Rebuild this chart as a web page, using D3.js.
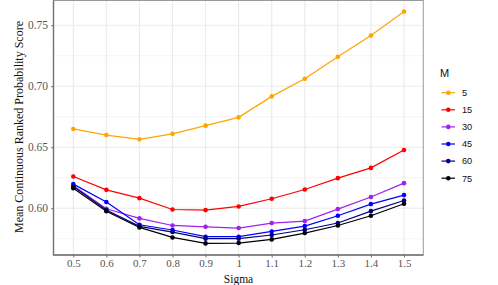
<!DOCTYPE html>
<html><head><meta charset="utf-8">
<script src="https://cdn.jsdelivr.net/npm/d3@7"></script>
<style>body{margin:0;background:#fff}svg{display:block}</style>
</head><body>
<svg id="c" width="498" height="285"></svg>
<script>
const sigma = [0.5,0.6,0.7,0.8,0.9,1.0,1.1,1.2,1.3,1.4,1.5];
const seriesNames = ["5","15","30","45","60","75"];
const m5  = [0.6650,0.6600,0.6565,0.6610,0.6677,0.6745,0.6917,0.7061,0.7241,0.7416,0.7612];
const m15 = [0.6260,0.6151,0.6083,0.5990,0.5985,0.6015,0.6078,0.6154,0.6247,0.6331,0.6478];
const m30 = [0.6185,0.5996,0.5917,0.5859,0.5848,0.5838,0.5879,0.5895,0.5993,0.6092,0.6206];
const m45 = [0.6198,0.6051,0.5865,0.5822,0.5767,0.5767,0.5810,0.5854,0.5939,0.6034,0.6108];
const m60 = [0.6178,0.5985,0.5852,0.5805,0.5751,0.5751,0.5781,0.5824,0.5879,0.5977,0.6064];
const m75 = [0.6165,0.5975,0.5843,0.5761,0.5712,0.5715,0.5745,0.5797,0.5859,0.5939,0.6037];
const xTicks = [0.5,0.6,0.7,0.8,0.9,1.0,1.1,1.2,1.3,1.4,1.5];
const xTickLabels = ["0.5","0.6","0.7","0.8","0.9","1","1.1","1.2","1.3","1.4","1.5"];
const yTicks = [0.60,0.65,0.70,0.75];
const yMinor = [0.575,0.625,0.675,0.725];
const colors = ["#FFA500","#FF0000","#A020F0","#0000FF","#000080","#000000"];
const allSeries = [m5,m15,m30,m45,m60,m75];

const svg = d3.select("#c");
const L = 53.5, R = 423.3, T = 0.5, B = 255;
const x = d3.scaleLinear().domain([0.5,1.5]).range([73.3,404]);
const y = d3.scaleLinear().domain([0.5617,0.7707]).range([B,0]);
const serif = "'Liberation Serif','DejaVu Serif',serif";
const sans = "'Liberation Sans',Arial,sans-serif";

const g = svg.append("g");
g.selectAll(".ym").data(yMinor).enter().append("line")
  .attr("x1",L).attr("x2",R).attr("y1",d=>y(d)).attr("y2",d=>y(d))
  .attr("stroke","#ececec").attr("stroke-width",0.6);
g.selectAll(".yM").data(yTicks).enter().append("line")
  .attr("x1",L).attr("x2",R).attr("y1",d=>y(d)).attr("y2",d=>y(d))
  .attr("stroke","#ebebeb").attr("stroke-width",1.2);
g.selectAll(".xM").data(xTicks).enter().append("line")
  .attr("y1",T).attr("y2",B).attr("x1",d=>x(d)).attr("x2",d=>x(d))
  .attr("stroke","#ebebeb").attr("stroke-width",1.2);

g.append("rect").attr("x",L).attr("y",T).attr("width",R-L).attr("height",B-T)
  .attr("fill","none").attr("stroke","#9a9a9a").attr("stroke-width",1);
g.append("path").attr("d",`M${L},${T}V${B}H${R}`).attr("fill","none")
  .attr("stroke","#707070").attr("stroke-width",1.4);

const xAxis = d3.axisBottom(x).tickValues(xTicks).tickFormat((d,i)=>xTickLabels[i]).tickSize(2.5).tickPadding(1.5);
const ax = svg.append("g").attr("transform",`translate(0,${B})`).call(xAxis);
ax.select(".domain").remove();
ax.selectAll("line").attr("stroke","#707070");
ax.selectAll("text").attr("font-family",serif).attr("font-size",11).attr("fill","#555");
const yAxis = d3.axisLeft(y).tickValues(yTicks).tickFormat(d3.format(".2f")).tickSize(2.5).tickPadding(3);
const ay = svg.append("g").attr("transform",`translate(${L},0)`).call(yAxis);
ay.select(".domain").remove();
ay.selectAll("line").attr("stroke","#707070");
ay.selectAll("text").attr("font-family",serif).attr("font-size",11.5).attr("fill","#555");

svg.append("text").attr("x",238.5).attr("y",282.5).attr("text-anchor","middle")
  .attr("font-family",serif).attr("font-size",11.5).attr("fill","#111").text("Sigma");
svg.append("text").attr("transform","translate(23,127) rotate(-90)").attr("text-anchor","middle")
  .attr("font-family",serif).attr("font-size",12).attr("fill","#111")
  .text("Mean Continuous Ranked Probability Score");

const line = d3.line().x((d,i)=>x(sigma[i])).y(d=>y(d));
allSeries.forEach((s,k)=>{
  svg.append("path").datum(s).attr("d",line).attr("fill","none")
    .attr("stroke",colors[k]).attr("stroke-width",1.2);
  svg.selectAll(null).data(s).enter().append("circle")
    .attr("cx",(d,i)=>x(sigma[i])).attr("cy",d=>y(d)).attr("r",2.3).attr("fill",colors[k]);
});

const lg = svg.append("g");
lg.append("text").attr("x",440).attr("y",77).attr("font-family",sans)
  .attr("font-size",11).attr("fill","#111").text("M");
seriesNames.forEach((n,k)=>{
  const yy = 92.7 + k*17.1;
  lg.append("line").attr("x1",441.5).attr("x2",455).attr("y1",yy).attr("y2",yy)
    .attr("stroke",colors[k]).attr("stroke-width",1.2);
  lg.append("circle").attr("cx",448.3).attr("cy",yy).attr("r",2.3).attr("fill",colors[k]);
  lg.append("text").attr("x",462).attr("y",yy+3.3).attr("font-family",sans)
    .attr("font-size",9.2).attr("fill","#111").text(n);
});
</script>
</body></html>
